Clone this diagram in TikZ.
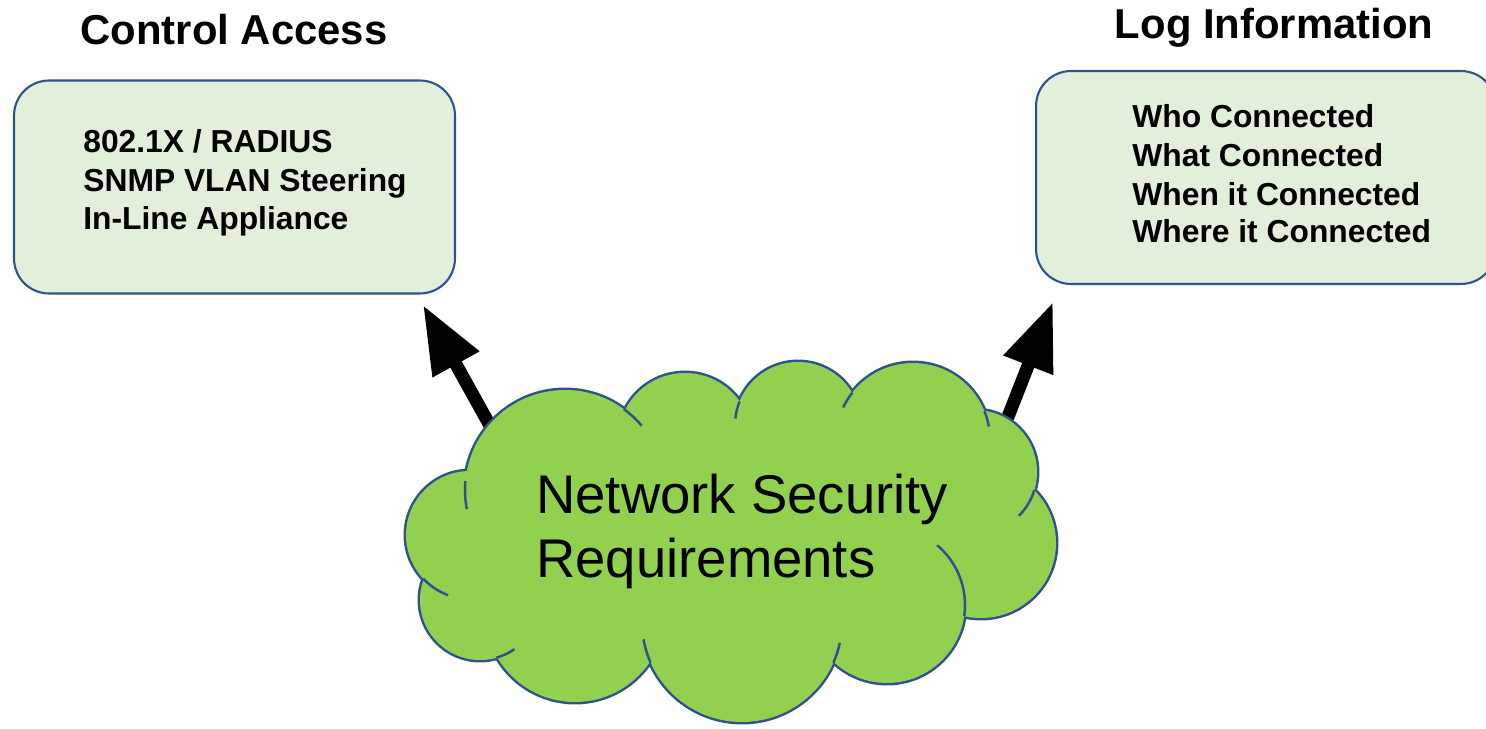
\documentclass[tikz,border=0pt]{standalone}
\usepackage{fontspec}
\setmainfont{Liberation Sans}
\usetikzlibrary{arrows.meta}

\definecolor{panelfill}{RGB}{226,239,218}
\definecolor{cloudfill}{RGB}{146,208,80}
\definecolor{edgeblue}{RGB}{47,82,143}

\tikzset{
  heading/.style={font=\bfseries\fontsize{23.8}{28}\selectfont, anchor=base, inner sep=0pt},
  item/.style={font=\bfseries\fontsize{18.1}{21.5}\selectfont, anchor=base west, inner sep=0pt},
  cloudtext/.style={font=\fontsize{31}{36}\selectfont, anchor=base west, inner sep=0pt},
  panel/.style={draw=edgeblue, line width=1.2pt, fill=panelfill, rounded corners=0.7cm},
  bigarrow/.style={line width=0.26cm, -{Triangle[length=1.36cm,width=1cm]}},
}

\begin{document}
\begin{tikzpicture}[x=0.02cm,y=-0.02cm]
\useasboundingbox (0,0) rectangle (1486,729);

\node[panel, minimum width=8.82cm, minimum height=4.26cm] (cabox) at (234.5,187) {};
\node[panel, minimum width=9.2cm, minimum height=4.26cm] (libox) at (1266,177.5) {};

\node[heading] (ca) at (234,45) {Control Access};
\node[heading] (li) at (1274,39) {Log Information};

\node[item] (ca1) at (83,153) {802.1X / RADIUS};
\node[item] (ca2) at (83,192) {SNMP VLAN Steering};
\node[item] (ca3) at (83,230) {In-Line Appliance};

\node[item] (li1) at (1132,128) {Who Connected};
\node[item] (li2) at (1132,167) {What Connected};
\node[item] (li3) at (1132,206) {When it Connected};
\node[item] (li4) at (1132,243) {Where it Connected};

\coordinate (a1) at (493,431);
\coordinate (a2) at (423,305);
\coordinate (b1) at (1004,427);
\coordinate (b2) at (1053,302);
\draw[bigarrow] (a1) -- (a2);
\draw[bigarrow] (b1) -- (b2);

% cloud
\draw[edgeblue, line width=2.8pt] (565,490) circle (100) (685,440) circle (67)
  (798,425) circle (63) (913,440) circle (77) (975,472) circle (62)
  (981,543) circle (75) (887,605) circle (78) (742,622) circle (100)
  (575,612) circle (90) (480,600) circle (60) (470,535) circle (64);
\fill[cloudfill] (565,490) circle (100) (685,440) circle (67)
  (798,425) circle (63) (913,440) circle (77) (975,472) circle (62)
  (981,543) circle (75) (887,605) circle (78) (742,622) circle (100)
  (575,612) circle (90) (480,600) circle (60) (470,535) circle (64)
  (735,540) ellipse [x radius=230, y radius=110];
\draw[edgeblue, line width=1.4pt]
  (565,490) ++(169:100) arc[start angle=169, end angle=185, radius=100]
  (565,490) ++(306:100) arc[start angle=306, end angle=320, radius=100]
  (798,425) ++(202:63) arc[start angle=202, end angle=186, radius=63]
  (913,440) ++(218:77) arc[start angle=218, end angle=205, radius=77]
  (913,440) ++(338:77) arc[start angle=338, end angle=350, radius=77]
  (975,472) ++(17:62) arc[start angle=17, end angle=45, radius=62]
  (887,605) ++(8:78) arc[start angle=8, end angle=-50, radius=78]
  (742,622) ++(24:100) arc[start angle=24, end angle=12, radius=100]
  (742,622) ++(156:100) arc[start angle=156, end angle=170, radius=100]
  (480,600) ++(74:60) arc[start angle=74, end angle=55, radius=60]
  (470,535) ++(137:64) arc[start angle=137, end angle=110, radius=64];

\node[cloudtext] (net1) at (536,513) {Network Security};
\node[cloudtext] (net2) at (536,577) {Requirements};
\end{tikzpicture}
\end{document}
